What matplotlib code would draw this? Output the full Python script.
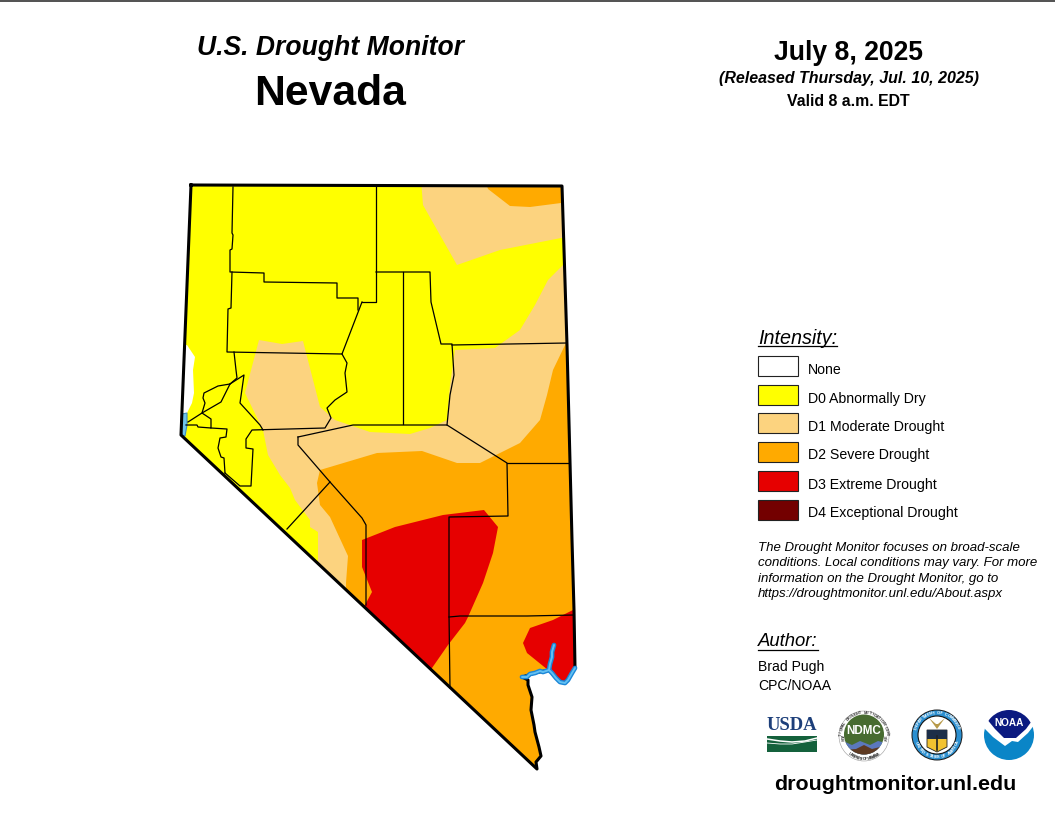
"""Nevada drought monitor map, drawn in picture pixel coordinates."""

import matplotlib
matplotlib.use("Agg")
import matplotlib.pyplot as plt
import numpy as np
from matplotlib.patches import Circle, Polygon, Rectangle

plt.rcParams["font.family"] = ["Liberation Sans", "DejaVu Sans"]

# state outline, clockwise from the NW corner
state = [(191, 185), (562, 186), (567, 345), (572, 540), (574, 610), (575, 668),
         (572, 673), (565, 683), (560, 682), (549, 670), (535, 673), (522, 677),
         (528, 680), (528, 685), (532, 697), (531, 710), (534, 725),
         (535, 732), (539, 747), (541, 756), (536, 762), (537, 769), (181, 435)]

# drought areas; each class sits on top of the lower one
d0 = [(170, 170), (590, 170), (590, 790), (170, 790)]
none_west = [(187, 345), (195, 357), (193, 370), (194, 393), (192, 403), (187, 413),
             (180, 413), (180, 345)]
d1_ne = [(421, 180), (423, 205), (457, 265), (500, 250), (561, 238), (580, 238), (580, 180)]
d1_main = [(259, 340), (282, 344), (303, 341), (320, 407), (335, 420), (370, 432),
           (410, 434), (430, 428), (447, 420), (450, 385), (455, 350), (495, 348),
           (520, 330), (535, 305), (548, 280), (563, 265), (590, 265), (590, 500),
           (400, 700), (318, 600), (318, 532), (310, 527), (310, 520), (295, 500),
           (290, 488), (280, 475), (268, 455), (263, 430), (245, 393)]
d2_ne = [(485, 180), (488, 189), (510, 206), (530, 207), (561, 203), (580, 203), (580, 180)]
d2_main = [(320, 470), (377, 453), (422, 451), (457, 463), (480, 463), (520, 443),
           (540, 420), (547, 395), (553, 370), (566, 343), (590, 343), (590, 790),
           (500, 790), (346, 610), (346, 583), (348, 556), (330, 517), (320, 505),
           (317, 483)]
d3_south = [(362, 540), (395, 527), (443, 515), (484, 510), (498, 527), (493, 553),
            (483, 583), (468, 617), (465, 623), (448, 645), (432, 668), (420, 680),
            (350, 610), (365, 605), (372, 592), (362, 567)]
d3_se = [(590, 606), (573, 610), (553, 620), (530, 628), (523, 643), (527, 653),
         (548, 670), (553, 690), (590, 690)]

# county lines
counties = [
    [(233, 187), (232, 233), (233, 235), (232, 249), (230, 250), (230, 272), (264, 273),
     (264, 282), (337, 283), (337, 298), (358, 298), (358, 310)],
    [(362, 302), (376, 302), (376, 187)],
    [(232, 272), (231, 308), (228, 309), (227, 352), (342, 354), (362, 302)],
    [(376, 272), (430, 272), (431, 302), (441, 344), (452, 344), (454, 375), (450, 395),
     (447, 425)],
    [(403, 272), (403, 424)],
    [(452, 345), (567, 343)],
    [(234, 352), (236, 370), (237, 378), (230, 384), (218, 386), (204, 393), (203, 398),
     (205, 403), (202, 413), (188, 422)],
    [(230, 384), (221, 402), (202, 413), (211, 419), (211, 428), (198, 427), (197, 425),
     (186, 425)],
    [(230, 384), (244, 375), (240, 403), (260, 425), (263, 430)],
    [(342, 354), (347, 363), (345, 373), (347, 392), (335, 400), (327, 408), (331, 418),
     (325, 428), (252, 430), (246, 439), (246, 448), (253, 449), (251, 486), (240, 486),
     (225, 473)],
    [(211, 428), (227, 429), (226, 437), (220, 438), (218, 448), (221, 457), (224, 458),
     (225, 473)],
    [(298, 437), (353, 425), (447, 425), (507, 463), (508, 516), (449, 517), (449, 615),
     (450, 688)],
    [(298, 437), (298, 445), (330, 482), (362, 518), (366, 525), (366, 605)],
    [(330, 482), (287, 529)],
    [(507, 463), (568, 463)],
    [(449, 617), (460, 616), (527, 616), (574, 615)],
]

river = [(575, 668), (572, 673), (568, 680), (565, 683), (560, 682), (556, 678), (552, 673),
         (549, 670), (543, 672), (540, 671), (535, 673), (530, 674), (527, 677), (522, 677)]
river_arm = [(549, 670), (550, 664), (552, 657), (552, 652), (554, 645)]
tahoe = [(182, 414), (187, 413), (187, 425), (185, 436), (182, 435), (181, 425)]

legend_colors = ["white", "#ffff00", "#fcd37f", "#ffaa00", "#e60000", "#730000"]
legend_labels = ["None", "D0 Abnormally Dry", "D1 Moderate Drought", "D2 Severe Drought",
                 "D3 Extreme Drought", "D4 Exceptional Drought"]
legend_tops = [356, 385, 413, 442, 471, 500]
note_lines = ["The Drought Monitor focuses on broad-scale",
              "conditions. Local conditions may vary. For more",
              "information on the Drought Monitor, go to",
              "https://droughtmonitor.unl.edu/About.aspx"]


def ring_text(ax, cx, cy, r, text, start, end, color, size=3.2):
    # letters along a circle, angles in degrees clockwise from straight up
    for ch, a in zip(text, np.linspace(start, end, len(text))):
        t = np.radians(a)
        x, y = cx + r * np.sin(t), cy - r * np.cos(t)
        rot = -a if -90 <= a <= 90 else 180 - a
        ax.text(x, y, ch, ha="center", va="center", rotation=rot, fontsize=size,
                weight="bold", color=color)


fig = plt.figure(figsize=(10.55, 8.18), dpi=100)
ax = fig.add_axes([0, 0, 1, 1])
ax.set_xlim(0, 1055)
ax.set_ylim(818, 0)
ax.axis("off")

ax.plot([0, 1055], [0.5, 0.5], color="#333333", lw=1.2)

# map
outline = Polygon(state, closed=True, fc="none", ec="none")
ax.add_patch(outline)
for pts, col in [(d0, "#ffff00"), (none_west, "white"), (d1_ne, "#fcd37f"), (d1_main, "#fcd37f"),
                 (d2_ne, "#ffaa00"), (d2_main, "#ffaa00"), (d3_south, "#e60000"), (d3_se, "#e60000")]:
    p = Polygon(pts, closed=True, fc=col, ec="none")
    ax.add_patch(p)
    p.set_clip_path(outline)

for line in counties:
    xs, ys = zip(*line)
    ax.plot(xs, ys, color="black", lw=0.9, solid_joinstyle="round")

sx, sy = zip(*(state + state[:1]))
ax.plot(sx, sy, color="black", lw=2.2, solid_joinstyle="round")

for line in (river, river_arm):
    xs, ys = zip(*line)
    ax.plot(xs, ys, color="#1b87d8", lw=3.4, solid_capstyle="round")
for line in (river, river_arm):
    xs, ys = zip(*line)
    ax.plot(xs, ys, color="#62c0f2", lw=1.4, solid_capstyle="round")
ax.add_patch(Polygon(tahoe, closed=True, fc="#6fc3e8", ec="#3d8fc0", lw=0.8))

# titles
ax.text(331, 48, "U.S. Drought Monitor", ha="center", va="center", fontsize=19.1,
        style="italic", weight="bold")
ax.text(330, 94, "Nevada", ha="center", va="center", fontsize=30.7, weight="bold")
ax.text(848, 53, "July 8, 2025", ha="center", va="center", fontsize=19.1, weight="bold")
ax.text(849, 79, "(Released Thursday, Jul. 10, 2025)", ha="center", va="center", fontsize=11.5,
        style="italic", weight="bold")
ax.text(848, 101, "Valid 8 a.m. EDT", ha="center", va="center", fontsize=11.4, weight="bold")

# legend
ax.text(758, 338, "Intensity:", ha="left", va="center", fontsize=14.2, style="italic")
ax.plot([758, 837], [346, 346], color="black", lw=0.9)
for top, col, lab in zip(legend_tops, legend_colors, legend_labels):
    ax.add_patch(Rectangle((758, top), 40, 20, fc=col, ec="#222222", lw=0.8))
    ax.text(808, top + 13.5, lab, ha="left", va="center", fontsize=10.2)

for i, line in enumerate(note_lines):
    ax.text(758, 548 + i * 15.3, line, ha="left", va="center", fontsize=9.5, style="italic")

ax.text(758, 642, "Author:", ha="left", va="center", fontsize=13.3, style="italic")
ax.plot([758, 818], [650, 650], color="black", lw=0.9)
ax.text(758, 667, "Brad Pugh", ha="left", va="center", fontsize=10.1)
ax.text(758, 686, "CPC/NOAA", ha="left", va="center", fontsize=10.1)

# USDA logo
ax.text(792, 726, "USDA", ha="center", va="center", fontsize=13.4, color="#1d3f7a",
        family="Liberation Serif", weight="bold")
ax.add_patch(Rectangle((767, 735.5), 50, 16.5, fc="#14613c", ec="none"))
ux = np.array([767, 780, 792, 805, 817])
ax.plot(ux, [739, 741, 742, 741, 738], color="white", lw=1.1)
ax.plot(ux, [743, 744, 744, 742, 740], color="white", lw=0.6)

# NDMC logo
ax.add_patch(Circle((864, 736), 25, fc="white", ec="#999999", lw=0.4))
disk = Circle((864, 734.5), 20, fc="#476b30", ec="none")
ax.add_patch(disk)
wave = Polygon([(843, 741), (852, 745), (860, 741), (870, 745), (878, 741), (886, 743),
                (886, 756), (843, 756)], closed=True, fc="#5b78bd", ec="none")
ax.add_patch(wave)
wave.set_clip_path(disk)
dirt = Polygon([(843, 750), (856, 749), (864, 745), (872, 749), (880, 747), (886, 750),
                (886, 756), (843, 756)], closed=True, fc="#5e3a22", ec="none")
ax.add_patch(dirt)
dirt.set_clip_path(disk)
ax.text(864, 731, "NDMC", ha="center", va="center", fontsize=8.4, weight="bold", color="white")
ring_text(ax, 864, 736, 23, "NATIONAL DROUGHT MITIGATION CENTER", -98, 98, "#333333", 2.8)
ring_text(ax, 864, 736, 23, "UNIVERSITY OF NEBRASKA", 218, 142, "#333333", 2.8)

# Commerce seal
ax.add_patch(Circle((937, 735), 25.5, fc="#1a1a1a", ec="none"))
ax.add_patch(Circle((937, 735), 24.5, fc="#2b8fd0", ec="none"))
ax.add_patch(Circle((937, 735), 19, fc="white", ec="#111111", lw=0.8))
ax.add_patch(Polygon([(927, 730), (947, 730), (947, 747), (937, 752), (927, 747)],
                     closed=True, fc="#f2c230", ec="#222222", lw=0.6))
ax.add_patch(Rectangle((927, 730), 20, 9, fc="#1c2e48", ec="none"))
ax.plot([937, 937], [736, 750], color="#222222", lw=1.2)
ax.add_patch(Polygon([(929, 718), (937, 729), (945, 718), (938, 724), (936, 724)], closed=True,
                     fc="#b89a4a", ec="none"))
ring_text(ax, 937, 735, 22, "DEPARTMENT OF COMMERCE", -72, 72, "white", 2.9)
ring_text(ax, 937, 735, 22, "UNITED STATES OF AMERICA", 250, 110, "white", 2.9)

# NOAA logo
noaa_disk = Circle((1009, 735), 25, fc="#0a85c7", ec="none")
ax.add_patch(noaa_disk)
gull = Polygon([(983, 727), (993, 737), (1005, 746), (1012, 741), (1018, 742), (1028, 733),
                (1035, 724), (1035, 705), (983, 705)], closed=True, fc="white", ec="none")
ax.add_patch(gull)
dome = Polygon([(986, 718), (995, 729), (1004, 738), (1016, 738), (1026, 729), (1034, 718),
                (1034, 700), (986, 700)], closed=True, fc="#0b1a80", ec="none")
ax.add_patch(dome)
dome.set_clip_path(noaa_disk)
ax.text(1009, 723, "NOAA", ha="center", va="center", fontsize=7.2, weight="bold", color="white")

ax.text(895, 784, "droughtmonitor.unl.edu", ha="center", va="center", fontsize=15.4, weight="bold")

fig.savefig("out.png", dpi=100)
